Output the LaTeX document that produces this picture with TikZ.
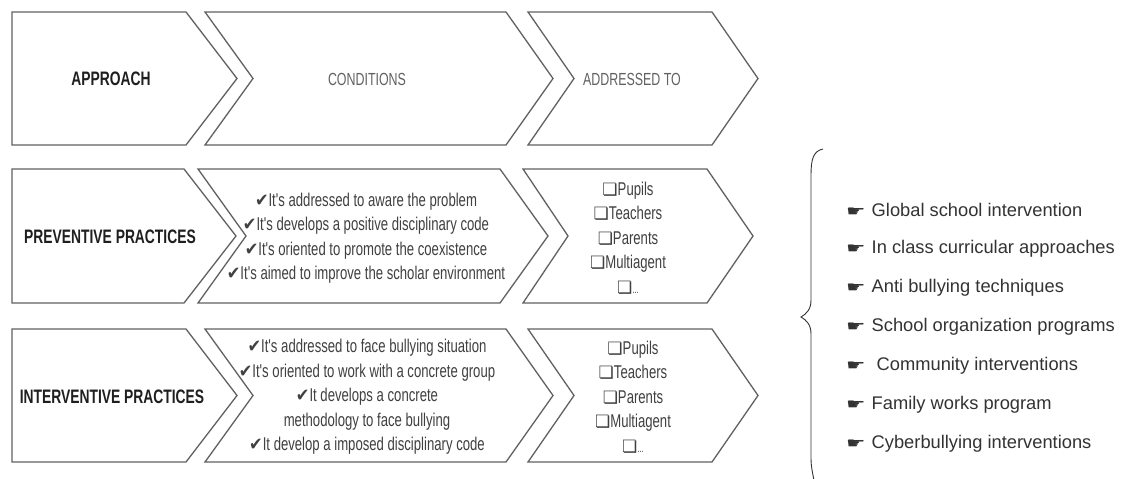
\documentclass[tikz,border=0pt]{standalone}
\usepackage{fontspec}
\setmainfont{Liberation Sans}
\newfontfamily\condf[FakeStretch=0.71]{Liberation Sans}
\newfontfamily\symf{DejaVu Sans}
\newfontfamily\handf[FakeStretch=1.45]{DejaVu Sans}
\newfontfamily\ckf[FakeStretch=0.9]{DejaVu Sans}
\newcommand\ckm{{\ckf\fontsize{18}{18}\selectfont ✔}}
\newcommand\sqm{{\symf\fontsize{17}{17}\selectfont ❏}}
\newcommand\hnd{{\handf\fontsize{15}{15}\selectfont ☛}}
% chevron: left x, notch x, top-right x, tip x, top y, bottom y
\newcommand\chevshape[6]{%
  \draw[chev] (#1,#5) -- (#3,#5) -- (#4,{(#5+#6)/2}) -- (#3,#6) -- (#1,#6) -- (#2,{(#5+#6)/2}) -- cycle;}
\tikzset{
  chev/.style={draw=black!62, line width=1.3pt, line join=miter, fill=white},
  hdbold/.style={font=\condf\bfseries\fontsize{19.5}{22}\selectfont, text=black!88, inner sep=0pt},
  hdreg/.style={font=\condf\fontsize{17.5}{20}\selectfont, text=black!62, inner sep=0pt},
  condtxt/.style={font=\condf\fontsize{18.5}{24.5}\selectfont, text=black!75, align=center, inner sep=0pt},
  listtxt/.style={font=\condf\fontsize{18.5}{24.5}\selectfont, text=black!75, align=center, inner sep=0pt},
  itemtxt/.style={font=\fontsize{18.3}{20}\selectfont, text=black!80, anchor=west, inner sep=0pt},
  bracepath/.style={draw=black!80, line width=0.9pt}
}
\begin{document}
\begin{tikzpicture}[x=1pt,y=-1pt]
\useasboundingbox (0,0) rectangle (1127,479);
\fill[white] (0,0) rectangle (1127,479);
% row 1
\chevshape{12}{12}{186}{237}{12}{145}
\chevshape{205}{253}{506}{553}{12}{145}
\chevshape{528}{574}{712}{758}{12}{145}
% row 2
\chevshape{12}{12}{184}{236}{169}{303}
\chevshape{198}{246}{500}{548}{169}{303}
\chevshape{523}{568}{707}{753}{169}{303}
% row 3
\chevshape{12}{12}{186}{237}{329}{462}
\chevshape{205}{253}{506}{553}{329}{462}
\chevshape{528}{574}{712}{758}{329}{462}

\node[hdbold] (ap) at (111,79) {APPROACH};
\node[hdreg] (co) at (367,79) {CONDITIONS};
\node[hdreg] (ad) at (632,79) {ADDRESSED TO};

\node[hdbold] (pp) at (110,237) {PREVENTIVE PRACTICES};
\node[condtxt] (pc) at (366,238) {\ckm It's addressed to aware the problem\\
\ckm It's develops a positive disciplinary code\\
\ckm It's oriented to promote the coexistence\\
\ckm It's aimed to improve the scholar environment};
\node[listtxt] (pa) at (628,238) {\sqm Pupils\\ \sqm Teachers\\ \sqm Parents\\ \sqm Multiagent\\ \sqm{\fontsize{11}{11}\selectfont ...}};

\node[hdbold] (ip) at (112,397) {INTERVENTIVE PRACTICES};
\node[condtxt] (ic) at (367,397) {\ckm It's addressed to face bullying situation\\
\ckm It's oriented to work with a concrete group\\
\ckm It develops a concrete\\
methodology to face bullying\\
\ckm It develop a imposed disciplinary code};
\node[listtxt] (ia) at (633,397) {\sqm Pupils\\ \sqm Teachers\\ \sqm Parents\\ \sqm Multiagent\\ \sqm{\fontsize{11}{11}\selectfont ...}};

% brace
\draw[bracepath] (823,149) .. controls (813,151) and (811,160) .. (811,175)
  -- (811,300) .. controls (811,310) and (806,314) .. (801,317)
  .. controls (806,320) and (811,324) .. (811,334)
  -- (811,458) .. controls (811,468) and (813,474) .. (815,486);

\node[itemtxt] (i1) at (846,210) {\hnd\hspace{6pt}Global school intervention};
\node[itemtxt] (i2) at (846,249) {\hnd\hspace{6pt}In class curricular approaches};
\node[itemtxt] (i3) at (846,288) {\hnd\hspace{6pt}Anti bullying techniques};
\node[itemtxt] (i4) at (846,327) {\hnd\hspace{6pt}School organization programs};
\node[itemtxt] (i5) at (846,366) {\hnd\hspace{6pt}\hspace{5pt}Community interventions};
\node[itemtxt] (i6) at (846,405) {\hnd\hspace{6pt}Family works program};
\node[itemtxt] (i7) at (846,444) {\hnd\hspace{6pt}Cyberbullying interventions};
\end{tikzpicture}
\end{document}
